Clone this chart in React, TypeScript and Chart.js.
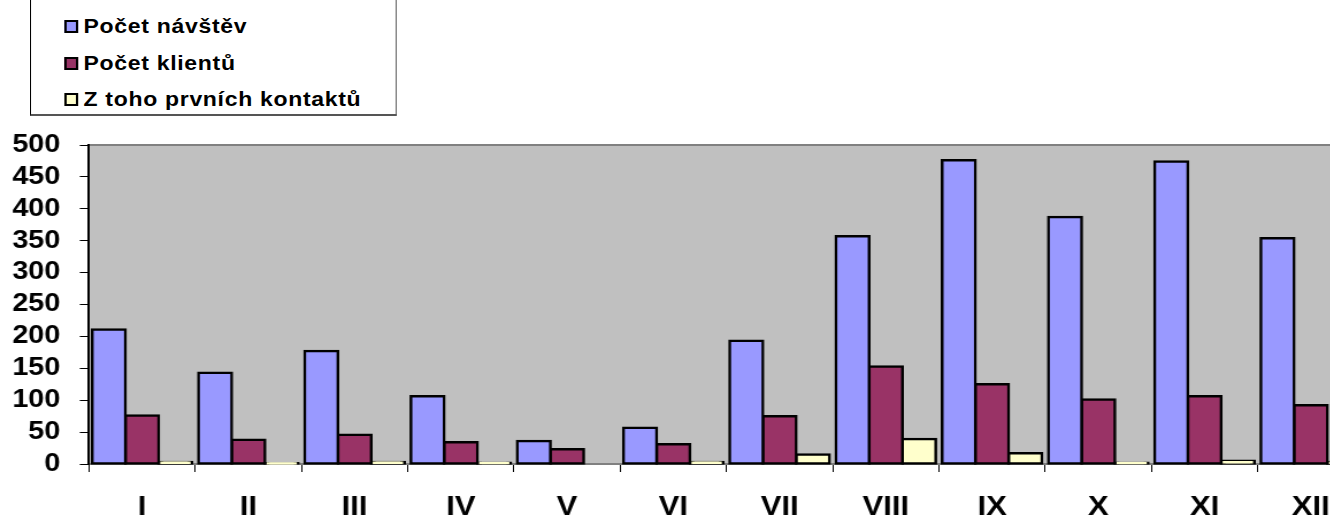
import React, { useEffect, useRef } from 'react';
import { Chart, registerables } from 'chart.js';

Chart.register(...registerables);

const categories = ['I', 'II', 'III', 'IV', 'V', 'VI', 'VII', 'VIII', 'IX', 'X', 'XI', 'XII'];
const pocetNavstev = [211, 143, 177, 106, 36, 57, 193, 357, 476, 387, 474, 354];
const pocetKlientu = [76, 38, 46, 34, 23, 31, 75, 153, 125, 101, 106, 92];
const prvniKontakty = [3, 1, 3, 2, 0, 3, 15, 39, 17, 2, 5, 3];
const seriesLabels = ['Počet návštěv', 'Počet klientů', 'Z toho prvních kontaktů'];
const seriesColors = ['#9999FF', '#993366', '#FFFFCC'];
const yMin = 0;
const yMax = 500;
const yStep = 50;

const FONT = '"Liberation Sans", Arial, sans-serif';
// the reference is drawn slightly wide: everything is stretched horizontally by this factor
const S = 1.15;
const PLOT_LEFT = 89;
const PLOT_RIGHT = 1364;

const plotBackground = {
  id: 'plotBackground',
  beforeDraw(chart: any) {
    const { ctx, chartArea } = chart;
    const { left, top, right, bottom } = chartArea;
    ctx.save();
    ctx.fillStyle = '#C0C0C0';
    ctx.fillRect(left, top, right - left, bottom - top);
    ctx.strokeStyle = '#808080';
    ctx.lineWidth = 2;
    ctx.beginPath();
    ctx.moveTo(left, top);
    ctx.lineTo(right, top);
    ctx.stroke();
    ctx.restore();
  },
};

export default function App() {
  const canvasRef = useRef<HTMLCanvasElement | null>(null);

  useEffect(() => {
    const canvas = canvasRef.current;
    if (!canvas) return;
    const values = [pocetNavstev, pocetKlientu, prvniKontakty];
    const chart = new Chart(canvas, {
      type: 'bar',
      data: {
        labels: categories,
        datasets: values.map((v, i) => ({
          label: seriesLabels[i],
          data: v,
          backgroundColor: seriesColors[i],
          borderColor: '#000000',
          borderWidth: (c: any) => (c.raw === 0 ? 0 : 2.5),
          inflateAmount: (c: any) => (c.raw === 0 ? 0 : 1.25),
          borderSkipped: false,
          categoryPercentage: 0.94,
          barPercentage: 1,
          clip: false,
        })),
      },
      plugins: [plotBackground],
      options: {
        responsive: false,
        animation: false,
        devicePixelRatio: 1,
        layout: { padding: { top: 145, left: 0, right: 0, bottom: 0 } },
        plugins: {
          legend: { display: false },
          tooltip: { enabled: false },
        },
        scales: {
          x: {
            offset: true,
            grid: {
              offset: true,
              drawOnChartArea: false,
              drawTicks: true,
              tickLength: 8,
              color: '#000000',
              lineWidth: 1,
            },
            border: { display: true, color: '#808080', width: 2 },
            ticks: {
              color: '#000000',
              font: { family: FONT, size: 27, weight: 'bold' },
              padding: 19,
              maxRotation: 0,
              autoSkip: false,
            },
            afterFit: (scale: any) => {
              scale.height = 60;
            },
          },
          y: {
            min: yMin,
            max: yMax,
            grid: {
              drawOnChartArea: false,
              drawTicks: true,
              tickLength: 8,
              color: '#000000',
              lineWidth: 1,
            },
            border: { display: true, color: '#000000', width: 2 },
            ticks: {
              stepSize: yStep,
              autoSkip: false,
              color: '#000000',
              font: { family: FONT, size: 25, weight: 'bold', lineHeight: 1 },
              padding: 17,
            },
            afterFit: (scale: any) => {
              scale.width = PLOT_LEFT / S;
            },
          },
        },
      },
    } as any);
    return () => chart.destroy();
  }, []);

  const rowCenters = [26, 63, 99];
  const canvasW = Math.round(PLOT_RIGHT / S);

  return (
    <div
      style={{
        position: 'fixed',
        left: 0,
        top: 0,
        width: 1330,
        height: 520,
        overflow: 'hidden',
        background: '#ffffff',
      }}
    >
      <div
        style={{
          position: 'absolute',
          left: 0,
          top: 0,
          width: canvasW,
          height: 524,
          transform: `scaleX(${S})`,
          transformOrigin: '0 0',
        }}
      >
        <canvas
          ref={canvasRef}
          width={canvasW}
          height={524}
          style={{ position: 'absolute', left: 0, top: 0, width: canvasW, height: 524 }}
        />
        <div
          style={{
            position: 'absolute',
            left: 30 / S,
            top: -20,
            width: 364 / S,
            height: 134,
            borderLeft: '1px solid #000',
            borderRight: '1px solid #666',
            borderBottom: '2px solid #555',
            background: '#ffffff',
          }}
        />
        {seriesLabels.map((label, i) => (
          <div
            key={label}
            style={{
              position: 'absolute',
              left: 64 / S,
              top: rowCenters[i] - 12,
              height: 24,
              display: 'flex',
              alignItems: 'center',
              fontFamily: FONT,
              fontWeight: 'bold',
              fontSize: 20,
              letterSpacing: '0.6px',
              color: '#000',
              whiteSpace: 'nowrap',
            }}
          >
            <span
              style={{
                display: 'inline-block',
                width: 8,
                height: 9,
                border: '2px solid #000',
                background: seriesColors[i],
                marginRight: 5,
              }}
            />
            <span>{label}</span>
          </div>
        ))}
      </div>
    </div>
  );
}
